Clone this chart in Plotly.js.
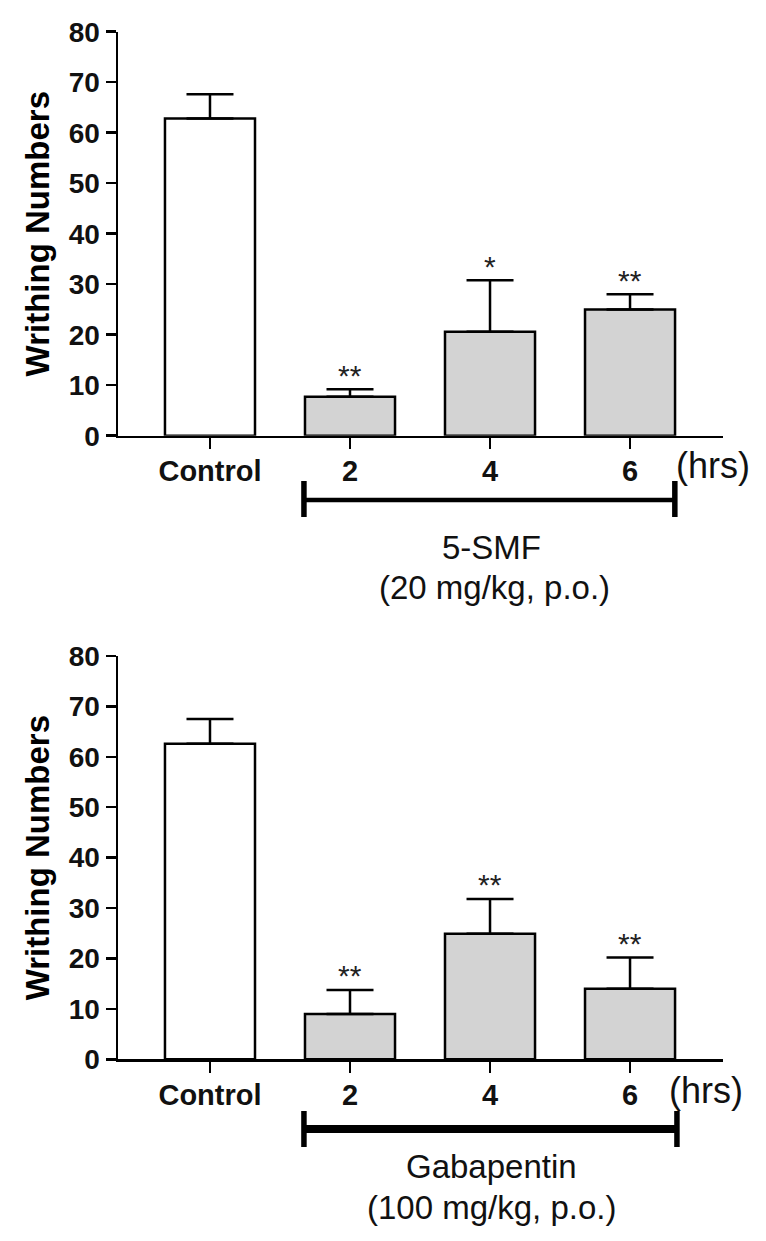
<!DOCTYPE html>
<html>
<head>
<meta charset="utf-8">
<script src="https://cdn.plot.ly/plotly-3.0.1.min.js"></script>
<style>html,body{margin:0;padding:0;background:#fff;}#chart{width:766px;height:1241px;}</style>
</head>
<body>
<div id="chart"></div>
<script>
// ---- data ----
const categories = ["Control", "2", "4", "6"];
const smfMeans = [62.8, 7.7, 20.6, 25.0];
const smfErrors = [4.8, 1.5, 10.2, 3.0];
const smfStars = ["", "**", "*", "**"];
const gabaMeans = [62.6, 9.0, 24.9, 14.0];
const gabaErrors = [4.9, 4.75, 6.9, 6.2];
const gabaStars = ["", "**", "**", "**"];
const barColors = ["#ffffff", "#d3d3d3", "#d3d3d3", "#d3d3d3"];
const yTicks = [0, 10, 20, 30, 40, 50, 60, 70, 80];
const yTitle = "Writhing Numbers";
const unitLabel = "(hrs)";
const smfLabel = ["5-SMF", "(20 mg/kg, p.o.)"];
const gabaLabel = ["Gabapentin", "(100 mg/kg, p.o.)"];

const FONT = "Liberation Sans, Arial, Helvetica, sans-serif";

function barTrace(means, errs, xa, ya) {
  return {
    type: "bar", x: categories, y: means, xaxis: xa, yaxis: ya,
    width: 0.643,
    marker: { color: barColors, line: { color: "#000", width: 2.5 } },
    error_y: { type: "data", array: errs, arrayminus: errs.map(() => 0), symmetric: false,
               color: "#000", thickness: 2.5, width: 23.5 },
    hoverinfo: "skip"
  };
}

function xAxis(domain, anchor) {
  return {
    domain: domain, anchor: anchor, type: "category", range: [-0.657, 3.664],
    showline: true, linecolor: "#000", linewidth: 2.5, mirror: false,
    ticks: "outside", ticklen: 11, tickwidth: 2.5, tickcolor: "#000",
    showgrid: false, zeroline: false, fixedrange: true, ticklabelstandoff: -3,
    tickfont: { family: FONT, size: 29, color: "#111", weight: "bold" }
  };
}
function yAxis(domain, anchor) {
  return {
    domain: domain, anchor: anchor, range: [0, 80], tickvals: yTicks,
    showline: true, linecolor: "#000", linewidth: 2.5,
    ticks: "outside", ticklen: 10, tickwidth: 2.5, tickcolor: "#000",
    showgrid: false, zeroline: false, fixedrange: true,
    tickfont: { family: FONT, size: 28, color: "#111", weight: "bold" },
    title: { text: yTitle, font: { family: FONT, size: 33, color: "#000", weight: "bold" }, standoff: 9 }
  };
}

function starAnns(means, errs, stars, xa, ya) {
  return stars.map((s, i) => ({
    x: i, y: means[i] + errs[i], xref: xa, yref: ya,
    text: s, showarrow: false, xanchor: "center", yanchor: "middle", yshift: 14,
    font: { family: FONT, size: 30, color: "#222" }
  })).filter(a => a.text !== "");
}

const annotations = [
  ...starAnns(smfMeans, smfErrors, smfStars, "x", "y"),
  ...starAnns(gabaMeans, gabaErrors, gabaStars, "x2", "y2"),
  { x: 712.5/766, y: (1241-466)/1241, xref: "paper", yref: "paper", text: unitLabel, showarrow: false,
    xanchor: "center", yanchor: "middle", font: { family: FONT, size: 36, color: "#111" } },
  { x: 705.5/766, y: (1241-1090)/1241, xref: "paper", yref: "paper", text: unitLabel, showarrow: false,
    xanchor: "center", yanchor: "middle", font: { family: FONT, size: 36, color: "#111" } },
  { x: 491/766, y: (1241-547)/1241, xref: "paper", yref: "paper", text: smfLabel[0], showarrow: false,
    xanchor: "center", yanchor: "middle", font: { family: FONT, size: 33, color: "#111" } },
  { x: 495/766, y: (1241-587)/1241, xref: "paper", yref: "paper", text: smfLabel[1], showarrow: false,
    xanchor: "center", yanchor: "middle", font: { family: FONT, size: 33, color: "#111" } },
  { x: 491.5/766, y: (1241-1166)/1241, xref: "paper", yref: "paper", text: gabaLabel[0], showarrow: false,
    xanchor: "center", yanchor: "middle", font: { family: FONT, size: 33, color: "#111" } },
  { x: 491.5/766, y: (1241-1207)/1241, xref: "paper", yref: "paper", text: gabaLabel[1], showarrow: false,
    xanchor: "center", yanchor: "middle", font: { family: FONT, size: 33, color: "#111" } }
];

function bracket(xa, x0, x1, yMid, yLo, yHi, hw) {
  return [
    { type: "line", xref: xa, yref: "paper", x0: x0, x1: x1, y0: yMid, y1: yMid, line: { color: "#000", width: hw } },
    { type: "line", xref: xa, yref: "paper", x0: x0, x1: x0, y0: yLo, y1: yHi, line: { color: "#000", width: 5.5 } },
    { type: "line", xref: xa, yref: "paper", x0: x1, x1: x1, y0: yLo, y1: yHi, line: { color: "#000", width: 5.5 } }
  ];
}

const shapes = [
  ...bracket("x", 0.671, 3.32, (1241-500)/1241, (1241-517)/1241, (1241-481)/1241, 4.5),
  ...bracket("x2", 0.671, 3.335, (1241-1129)/1241, (1241-1147)/1241, (1241-1111)/1241, 8)
];

const layout = {
  width: 766, height: 1241,
  margin: { l: 0, r: 0, t: 0, b: 0 },
  paper_bgcolor: "#fff", plot_bgcolor: "#fff",
  showlegend: false,
  font: { family: FONT, color: "#000" },
  xaxis: xAxis([118/766, 723/766], "y"),
  yaxis: yAxis([(1241-435.7)/1241, (1241-31.7)/1241], "x"),
  xaxis2: xAxis([118/766, 723/766], "y2"),
  yaxis2: yAxis([(1241-1059.3)/1241, (1241-656)/1241], "x2"),
  annotations: annotations,
  shapes: shapes,
  bargap: 0.36
};

Plotly.newPlot("chart", [
  barTrace(smfMeans, smfErrors, "x", "y"),
  barTrace(gabaMeans, gabaErrors, "x2", "y2")
], layout, { staticPlot: true, displayModeBar: false });
</script>
</body>
</html>
